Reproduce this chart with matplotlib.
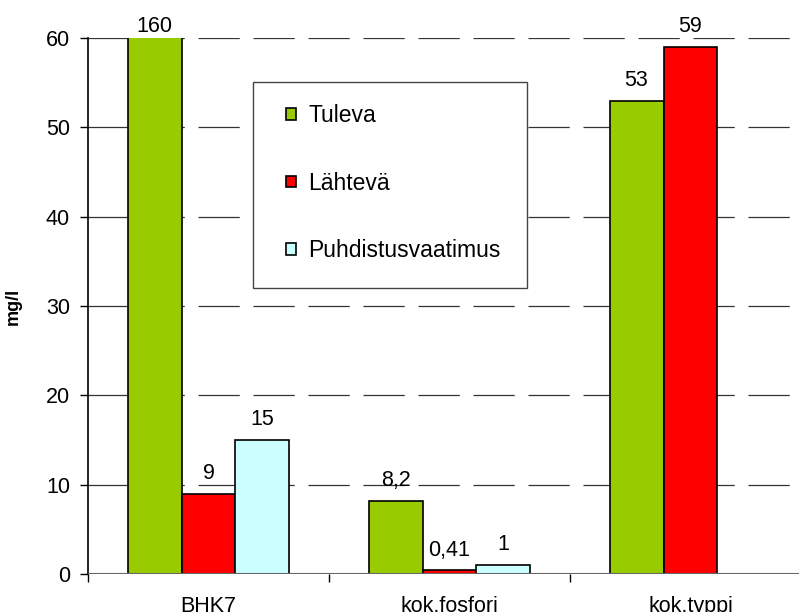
import numpy as np
import matplotlib
matplotlib.use("Agg")
import matplotlib.pyplot as plt
from matplotlib.patches import Rectangle

# data
categories = ["BHK7", "kok.fosfori", "kok.typpi"]
series_names = ["Tuleva", "Lähtevä", "Puhdistusvaatimus"]
tuleva = [160, 8.2, 53]
lahteva = [9, 0.41, 59]
vaatimus = [15, 1, None]
colors = ["#99CC00", "#FF0000", "#CCFFFF"]

plt.rcParams["font.family"] = ["Liberation Sans", "DejaVu Sans"]
fs = 15.5

W, H = 799, 612
fig = plt.figure(figsize=(W / 100, H / 100), dpi=100)
# axes extends past the right edge like in the original
ax = fig.add_axes([88 / W, 38 / H, 723 / W, 536 / H])

ymax = 60
x = np.arange(len(categories))
w = 0.224
all_series = [tuleva, lahteva, vaatimus]

for i, (vals, name, col) in enumerate(zip(all_series, series_names, colors)):
    xs = [xi + (i - 1) * w for xi, v in zip(x, vals) if v is not None]
    vs = [v for v in vals if v is not None]
    shown = [min(v, ymax + 0.3) for v in vs]
    ax.bar(xs, shown, width=w, color=col, edgecolor="black", linewidth=1.2,
           label=name, zorder=3, clip_on=True)
    for xx, v in zip(xs, vs):
        txt = f"{v:g}".replace(".", ",")
        off = 1 if v > ymax else 7
        ax.annotate(txt, (xx, min(v, ymax)), xytext=(0, off), textcoords="offset points",
                    ha="center", va="bottom", fontsize=fs, annotation_clip=False)

ax.set_xlim(-0.5, len(categories) - 0.5)
ax.set_ylim(0, ymax)
ax.set_yticks(range(0, 61, 10))
ax.tick_params(axis="y", labelsize=fs, length=6, width=1, direction="out", pad=7)

ax.set_xticks(x)
ax.set_xticklabels(categories, fontsize=fs)
ax.set_xticks(np.arange(-0.5, len(categories), 1), minor=True)
ax.tick_params(axis="x", which="major", length=0, pad=16)
ax.tick_params(axis="x", which="minor", length=6, width=1, direction="out")

for y in range(10, 61, 10):
    ax.axhline(y, color="#333333", linewidth=0.9, linestyle=(0, (33, 11)), zorder=1)
ax.axhline(0, color="#666666", linewidth=1.5, zorder=4)

for s in ["top", "right"]:
    ax.spines[s].set_visible(False)
ax.spines["bottom"].set_visible(False)
ax.spines["left"].set_linewidth(1.2)

ax.set_ylabel("mg/l", fontsize=13, fontweight="bold", labelpad=17)

# legend box drawn as its own rectangle, entries placed inside it
box = Rectangle((253 / W, 1 - 288 / H), 274 / W, 206 / H, transform=fig.transFigure,
                facecolor="white", edgecolor="#444444", linewidth=1.0, zorder=5)
fig.add_artist(box)
leg = ax.legend(loc="upper left", bbox_to_anchor=(286 / W, 1 - 104 / H),
                bbox_transform=fig.transFigure,
                fontsize=16.5, frameon=False,
                handlelength=0.42, handleheight=0.42, handletextpad=0.55,
                labelspacing=1.95, borderpad=0, borderaxespad=0)
leg.set_zorder(6)
fig.add_artist(leg)

fig.savefig("out.png", dpi=100)
